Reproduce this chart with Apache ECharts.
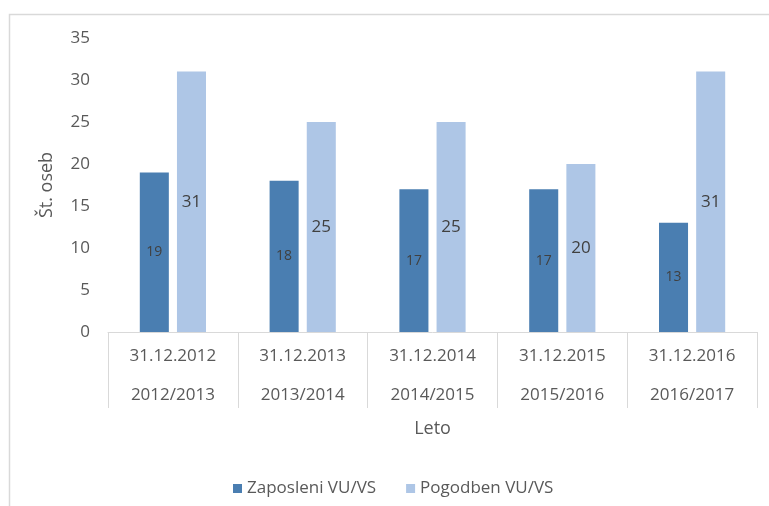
<!DOCTYPE html>
<html>
<head>
<meta charset="utf-8">
<script src="https://cdn.jsdelivr.net/npm/echarts@6/dist/echarts.min.js"></script>
<style>
  html, body { margin: 0; padding: 0; background: #fff; }
  #chart { width: 769px; height: 506px; }
</style>
</head>
<body>
<div id="chart"></div>
<script>
// podatki
const dates = ['31.12.2012', '31.12.2013', '31.12.2014', '31.12.2015', '31.12.2016']
const years = ['2012/2013', '2013/2014', '2014/2015', '2015/2016', '2016/2017']
const zaposleni = [19, 18, 17, 17, 13]
const pogodbeni = [31, 25, 25, 20, 31]

const font = '"Open Sans", "Noto Sans", sans-serif'
const textColor = '#595959'

const myChart = echarts.init(document.getElementById('chart'))

const option = {
  animation: false,
  textStyle: { fontFamily: font },
  // okvir grafa
  graphic: [
    {
      type: 'rect',
      shape: { x: 9.5, y: 14.5, width: 800, height: 600 },
      style: { fill: 'none', stroke: '#d9d9d9', lineWidth: 1.5 },
      silent: true
    }
  ],
  grid: { left: 108, right: 12, top: 38, bottom: 174 },
  legend: {
    data: ['Zaposleni VU/VS', 'Pogodben VU/VS'],
    left: 228,
    top: 475,
    itemWidth: 9,
    itemHeight: 9,
    itemGap: 30,
    icon: 'rect',
    textStyle: { color: textColor, fontSize: 17, fontFamily: font }
  },
  xAxis: {
    type: 'category',
    data: dates,
    name: 'Leto',
    nameLocation: 'middle',
    nameGap: 86,
    nameTextStyle: { color: textColor, fontSize: 18, fontFamily: font },
    axisLine: { lineStyle: { color: '#d9d9d9', width: 1 } },
    axisTick: { show: true, length: 76, interval: 0, lineStyle: { color: '#d9d9d9' } },
    axisLabel: {
      interval: 0,
      margin: 5,
      lineHeight: 39,
      color: textColor,
      fontSize: 17,
      fontFamily: font,
      formatter: (v, i) => v + '\n' + years[i]
    }
  },
  yAxis: {
    type: 'value',
    min: 0,
    max: 35,
    interval: 5,
    name: 'Št. oseb',
    nameLocation: 'middle',
    nameGap: 52,
    nameTextStyle: { color: textColor, fontSize: 18, fontFamily: font },
    axisLine: { show: false },
    axisTick: { show: false },
    splitLine: { show: false },
    axisLabel: { color: textColor, fontSize: 17, margin: 18, fontFamily: font }
  },
  series: [
    {
      name: 'Zaposleni VU/VS',
      type: 'bar',
      data: zaposleni,
      barGap: '28%',
      barCategoryGap: '49%',
      itemStyle: { color: '#4a7eb1' },
      label: { show: true, position: 'inside', color: '#404040', fontSize: 14, fontFamily: font }
    },
    {
      name: 'Pogodben VU/VS',
      type: 'bar',
      data: pogodbeni,
      itemStyle: { color: '#aec6e6' },
      label: { show: true, position: 'inside', color: '#404040', fontSize: 17, fontFamily: font }
    }
  ]
}

myChart.setOption(option)
</script>
</body>
</html>
